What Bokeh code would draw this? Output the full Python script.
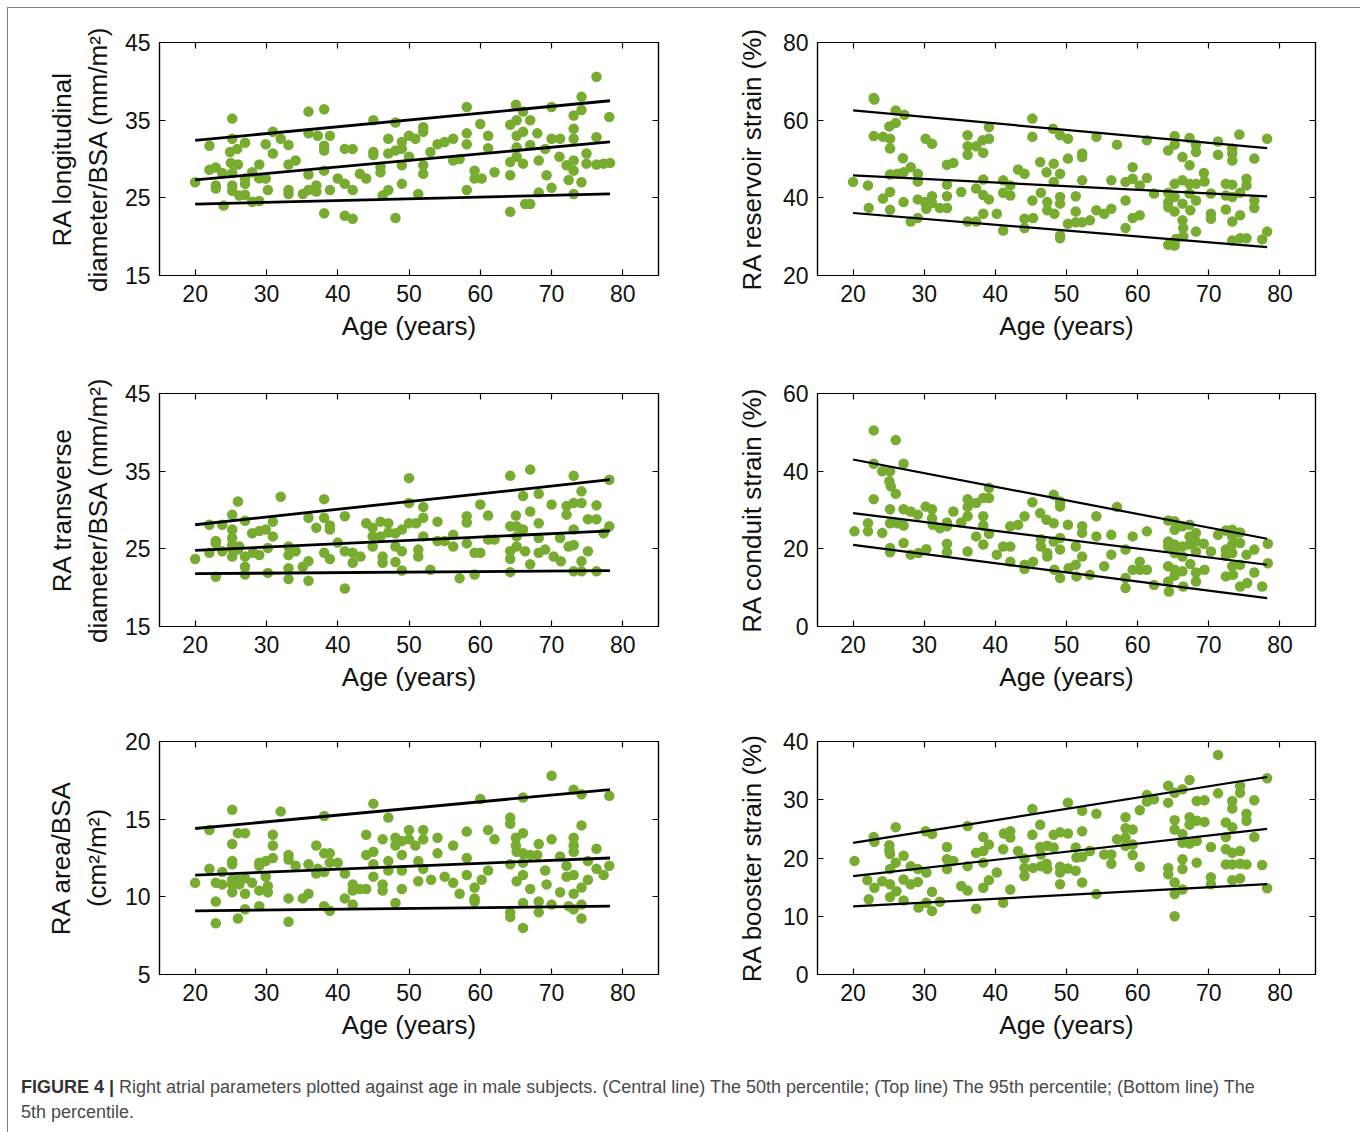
from bokeh.plotting import figure
from bokeh.models import FixedTicker, LinearAxis, Range1d, CustomJSTickFormatter, Div
from bokeh.layouts import column, row
from bokeh.embed import file_html
from bokeh.resources import INLINE

# ---------------- data ----------------
x_ticks = [20, 30, 40, 50, 60, 70, 80]
line_ages = [20, 78.2]

long_points = [(20,27.0),(22,31.7),(22,28.6),(22.9,28.9),(22.9,26.6),(22.9,26.2),(23.8,28.2),(24,24.0),
    (25.2,35.2),(25.2,32.6),(24.9,30.9),(25,29.5),(25.2,28.2),(25.2,26.6),(25.2,25.9),(26,29.3),(25.9,31.3),
    (26.2,25.3),(27,32.1),(27,27.5),(27,26.8),(27,25.4),(28,24.5),(28,28.3),(29,29.3),(29,27.5),(29,24.6),
    (29.9,31.9),(29.9,27.5),(30.2,26.0),(30.9,33.5),(30.9,30.7),(32,32.6),(33.1,31.8),(33.1,29.3),(33.1,26.0),
    (33.1,25.5),(34.1,29.8),(35.1,25.5),(35.9,36.1),(35.9,33.3),(35.9,28.0),(35.9,26.0),(37,26.6),(37,25.8),
    (37.2,33.0),(38.1,36.4),(38.1,31.7),(38.1,31.1),(38.1,28.5),(38.1,23.0),(38.9,33.0),(38.9,26.0),(40,27.5),
    (41,31.3),(41,26.8),(41,22.7),(42.1,31.3),(42.1,26.0),(42.1,22.3),(43.1,28.1),(44,27.5),(45,35.0),(45,30.9),
    (45,30.5),(46,29.0),(46,28.3),(46.3,25.3),(47.1,32.6),(47.1,30.7),(47.1,26.0),(48.1,34.7),(48.1,31.1),
    (48.1,22.4),(49,32.2),(49,31.3),(49,29.2),(49,26.8),(50,33.0),(50,30.3),(50.9,32.6),(51.3,25.5),(52,34.1),
    (52,33.5),(52,29.2),(52,28.1),(53,30.9),(54,31.9),(55,32.2),(56.2,32.6),(56.2,29.8),(57.1,30.0),(58.1,36.7),
    (58.1,33.3),(58.1,31.9),(58.1,26.0),(59.2,28.5),(59.2,27.5),(60,34.5),(60.2,27.5),(61.1,33.0),(61.1,31.4),
    (62,28.3),(64.2,34.4),(64.2,29.6),(64.2,27.9),(64.2,23.2),(65,37.0),(65.1,35.0),(65.1,33.0),(65.1,31.5),
    (65.1,30.3),(66,36.1),(66,33.5),(66,29.4),(66.3,24.2),(67,35.0),(67,31.8),(67,24.2),(68,33.3),(68.2,29.8),
    (68.2,25.7),(69.1,31.3),(69.3,27.9),(70,36.7),(70,32.6),(70,26.3),(71.1,30.3),(71.2,32.6),(72.1,29.2),
    (72.4,27.3),(73.1,35.6),(73.1,33.9),(73.1,32.6),(73.1,29.8),(73.1,28.5),(73.1,25.5),(74.2,38.0),(74.2,36.3),
    (74.2,27.0),(74.9,30.7),(74.9,29.4),(76.3,40.6),(76.3,32.8),(76.3,29.3),(77.3,29.4),(78.1,35.4),(78.2,29.5)]
long_p95 = [32.4, 37.5]
long_p50 = [27.3, 32.2]
long_p5 = [24.2, 25.5]

res_points = [(22.9,65.7),(23,65.3),(22.9,55.9),(24.2,55.7),(25.2,55.2),(25.2,52.7),(25.1,58.4),(26,59.3),
    (26,62.5),(27.2,61.4),(27,50.2),(20,44.1),(22.1,43.2),(22.2,37.4),(24.2,39.8),(25.2,41.5),(25.2,46.0),
    (25.2,36.9),(26.2,46.2),(27.1,38.9),(27.1,46.6),(28.1,47.9),(28.1,33.9),(29.1,46.2),(29.1,44.2),(29.1,39.6),
    (29.1,34.8),(30.2,55.2),(31.1,53.9),(30.1,38.9),(30.3,37.2),(31.1,40.4),(31.1,38.7),(32.2,37.4),(33.2,48.5),
    (34.1,49.0),(33.2,40.4),(33.2,37.4),(33.2,43.4),(35.2,41.5),(36.1,56.1),(36.1,53.3),(36.1,51.1),(36.1,33.9),
    (37.3,53.3),(37.3,42.4),(37.3,33.9),(38.2,54.8),(38.3,51.6),(38.3,44.7),(38.3,40.7),(38.3,35.9),(39.1,58.2),
    (39.1,55.2),(39.1,39.6),(40.2,35.9),(41.1,44.5),(41.1,41.3),(41.1,31.6),(42.1,43.2),(42.1,40.6),(43.2,47.3),
    (44.1,46.2),(44.1,34.6),(44.1,32.2),(45.2,60.4),(45.2,55.7),(45.2,39.3),(45.3,34.8),(46.3,49.2),(46.4,41.3),
    (47.2,46.6),(47.3,38.9),(47.3,36.8),(48.1,57.8),(48.2,48.8),(48.2,44.1),(48.3,35.9),(49.1,56.1),(49.1,46.2),
    (49.1,40.2),(49.1,38.5),(49.1,30.3),(49.1,29.6),(50.2,55.2),(50.2,50.1),(50.2,33.3),(51.3,40.4),(51.3,36.5),
    (51.3,33.7),(52.2,51.4),(52.2,50.5),(52.2,44.5),(52.2,33.7),(53.3,34.2),(54.2,55.7),(54.2,36.8),(55.3,35.9),
    (56.3,44.5),(56.3,37.2),(57.1,53.7),(58.3,44.1),(58.3,39.3),(58.3,32.2),(59.3,47.9),(59.3,44.9),(59.3,34.8),
    (60.3,43.2),(60.3,35.5),(61.3,54.8),(61.3,45.1),(62.3,41.1),(64.3,52.2),(64.3,41.3),(64.3,38.9),(64.3,37.6),
    (64.3,27.9),(65.2,55.9),(65.2,53.7),(65.2,43.6),(65.2,40.2),(65.2,36.5),(65.2,27.7),(65.4,29.4),(66.3,50.5),
    (66.3,44.5),(66.3,38.5),(66.3,34.2),(66.4,32.2),(66.4,30.1),(67.3,55.4),(67.3,48.4),(67.3,43.6),(67.3,41.1),
    (67.4,36.8),(68.2,53.7),(68.2,51.8),(68.2,43.6),(68.2,39.3),(68.2,31.3),(69.3,46.4),(69.4,44.2),(70.3,41.1),
    (70.3,35.9),(70.3,34.6),(71.3,54.5),(71.3,51.1),(72.4,43.6),(72.4,40.6),(72.4,37.0),(73.3,52.7),(73.3,51.4),
    (73.3,49.6),(73.3,43.4),(73.3,40.2),(73.3,33.9),(73.3,29.0),(74.3,56.3),(74.4,41.3),(74.4,35.5),(74.4,29.6),
    (75.3,44.9),(75.3,43.2),(75.3,29.6),(76.4,50.1),(76.4,39.3),(76.4,37.4),(77.5,29.3),(78.2,55.2),(78.2,31.3)]
res_p95 = [62.5, 52.8]
res_p50 = [45.8, 40.4]
res_p5 = [36.1, 27.3]

trans_points = [(20,23.7),(22,28.1),(22,24.5),(22.9,26.0),(22.9,25.7),(22.9,21.4),(23.8,28.1),(23.8,24.7),
    (25.2,29.4),(25.2,27.5),(25.2,26.4),(25.2,25.5),(25.2,25.0),(25.2,24.0),(26,31.1),(26,24.9),(26.2,25.3),
    (27,28.6),(27,24.0),(27,22.7),(27,21.7),(28,27.0),(28.1,24.5),(29,27.3),(29,24.2),(29.9,27.5),(30.2,25.1),
    (30.2,21.9),(30.9,28.5),(30.9,26.6),(32,31.7),(33.1,25.3),(33.1,24.2),(33.1,22.5),(33.1,21.1),(34.1,24.7),
    (35.1,22.7),(35.9,29.0),(35.9,23.4),(35.9,20.9),(37,27.7),(38.1,31.4),(38.1,29.0),(38.1,24.5),(38.9,28.0),
    (38.9,27.5),(38.9,23.7),(40,25.8),(41,29.2),(41,19.9),(41,24.7),(42.1,24.5),(42.1,23.2),(43.2,24.0),(44,28.3),
    (44.9,27.7),(44.9,26.6),(44.9,25.3),(46,28.5),(46,26.6),(46.3,24.0),(46.3,23.2),(47.1,28.3),(47.1,27.1),
    (48.1,27.0),(48.1,25.3),(48.1,23.3),(49,27.5),(49,24.7),(49,22.2),(50,34.1),(50,30.9),(50,28.3),(51,28.3),
    (51.3,24.9),(51.3,24.0),(52,30.4),(52,29.0),(52,26.6),(53,22.3),(54,28.5),(54,26.0),(55,26.0),(56.2,26.8),
    (56.2,25.3),(57.1,21.2),(58.1,29.2),(58.1,28.4),(58.1,25.7),(59.2,24.5),(59.2,21.7),(60,30.7),(60,24.5),
    (61.1,29.3),(61.1,26.2),(62,26.2),(64.2,34.4),(64.2,27.9),(64.2,24.7),(64.2,23.7),(64.2,22.0),(65,29.3),
    (65.1,27.9),(65.1,26.6),(65.1,25.3),(66,31.8),(66,27.5),(66.3,24.7),(67,35.2),(67,29.8),(67,23.0),(68.2,32.1),
    (68.2,28.3),(68.2,26.4),(68.2,24.5),(69.1,24.9),(70,30.7),(70.3,24.0),(71.2,26.4),(71.3,23.4),(72.1,30.5),
    (72.1,29.4),(72.4,25.3),(73.1,34.4),(73.1,30.9),(73.1,27.5),(73.1,25.5),(73.1,22.1),(74.2,32.4),(74.2,30.9),
    (74.2,23.4),(74.2,22.1),(75.1,28.8),(75.1,24.7),(76.3,30.6),(76.3,28.8),(76.3,22.1),(77.3,27.0),(78.1,33.9),
    (78.1,27.9)]
trans_p95 = [28.1, 33.9]
trans_p50 = [24.8, 27.3]
trans_p5 = [21.8, 22.2]

cond_points = [(22.9,50.5),(26,48.0),(22.9,41.9),(24.1,40.0),(25.2,40.0),(25.1,37.4),(25.3,36.1),(26,34.2),
    (27.1,41.9),(22.9,32.8),(20.2,24.5),(22.1,26.6),(22.1,24.5),(24.1,24.1),(25.2,30.2),(25.2,26.6),(25.2,20.2),
    (25.2,19.1),(26.2,26.6),(27.1,30.2),(27.1,26.0),(27.1,21.5),(28.1,29.6),(28.1,18.5),(29.1,28.8),(29.2,18.9),
    (30.2,30.9),(30.3,19.9),(31.1,30.2),(31.1,27.9),(31.2,26.2),(32.2,25.3),(33.2,26.8),(33.2,25.8),(33.2,21.3),
    (33.2,19.1),(34.1,29.6),(35.2,26.8),(36.1,32.8),(36.1,30.8),(36.1,28.4),(36.1,19.3),(37.3,31.8),(37.3,23.2),
    (38.3,33.1),(38.3,28.4),(38.3,26.0),(38.3,21.1),(39.1,35.7),(39.1,33.1),(39.1,23.9),(40.2,18.5),(41.1,20.6),
    (42.1,25.8),(42.1,20.6),(42.1,16.7),(43.2,26.2),(44.1,28.4),(44.1,15.9),(44.1,14.8),(45.2,32.0),(45.3,16.7),
    (46.3,29.2),(46.4,22.5),(46.4,20.6),(47.2,27.5),(47.3,18.9),(47.3,18.0),(48.2,33.9),(48.2,26.6),(48.2,21.9),
    (48.3,14.6),(49.1,32.2),(49.1,30.9),(49.1,22.8),(49.1,19.8),(49.1,12.5),(50.2,26.2),(50.3,15.0),(51.3,20.6),
    (51.3,15.9),(51.4,12.9),(52.2,25.8),(52.2,24.1),(52.2,18.0),(53.3,13.3),(54.2,28.4),(54.2,23.2),(55.3,15.5),
    (56.3,23.6),(56.3,18.5),(57.1,30.8),(58.3,19.8),(58.3,12.5),(58.3,9.9),(59.3,23.2),(59.3,14.6),(60.3,16.7),
    (60.3,14.6),(61.3,24.5),(61.3,14.6),(62.3,10.7),(64.3,27.3),(64.3,21.9),(64.3,20.6),(64.3,15.5),(64.3,11.6),
    (64.4,9.0),(65.2,27.1),(65.2,24.9),(65.2,21.1),(65.2,18.9),(65.2,14.6),(65.2,13.1),(66.3,25.8),(66.3,20.6),
    (66.3,18.0),(66.3,14.2),(66.4,10.3),(67.3,26.2),(67.3,23.2),(67.3,21.1),(67.4,16.1),(68.2,24.1),(68.2,21.9),
    (68.2,19.3),(68.2,13.9),(68.2,11.6),(69.3,21.3),(69.4,14.6),(70.3,19.3),(71.3,23.6),(72.4,24.7),(72.4,19.8),
    (72.4,18.2),(72.4,12.9),(73.3,24.9),(73.3,23.2),(73.3,21.1),(73.3,18.9),(73.3,15.5),(73.4,13.3),(74.4,24.2),
    (74.4,21.5),(74.4,15.9),(74.4,10.3),(75.3,18.5),(75.4,11.2),(76.4,19.8),(76.4,13.9),(77.5,10.3),(78.3,21.3),
    (78.3,16.3)]
cond_p95 = [43.0, 22.6]
cond_p50 = [29.2, 15.9]
cond_p5 = [21.0, 7.3]

area_points = [(20,10.9),(22,14.3),(22,11.8),(22.9,10.9),(22.9,9.7),(22.9,8.3),(23.8,11.6),(23.8,10.8),
    (25.2,15.6),(25.2,13.4),(25.2,12.3),(25.2,12.1),(25.2,11.1),(25.2,10.8),(25.2,10.3),(26,14.1),(26,11.1),
    (26,8.6),(26.2,10.8),(27,14.1),(27,11.2),(27,10.2),(27,9.2),(28,10.9),(29,12.2),(29,12.0),(29,10.4),(29,9.4),
    (29.9,12.3),(29.9,11.3),(30.2,10.7),(30.2,10.3),(30.9,14.0),(30.9,13.3),(30.9,12.5),(32,15.5),(33.1,12.7),
    (33.1,12.4),(33.1,9.9),(33.1,8.4),(34.1,12.0),(35.1,9.9),(35.9,12.1),(35.9,10.2),(37,13.3),(37,11.5),
    (37.2,11.8),(38.1,15.2),(38.1,12.8),(38.1,11.6),(38.1,9.4),(38.9,12.8),(38.9,12.2),(38.9,9.1),(40,12.2),
    (41,11.5),(41,9.9),(42.1,10.8),(42.1,10.4),(42.1,9.5),(43.1,10.5),(44,10.5),(44,14.0),(44,12.7),(45,16.0),
    (45,12.9),(45,12.1),(45,11.3),(46.3,13.7),(46.3,10.8),(46.3,10.4),(47.1,15.1),(47.1,12.3),(47.1,11.7),
    (48.1,13.8),(48.1,13.3),(48.1,9.6),(49,12.7),(49,11.7),(49,10.5),(49,13.6),(50,14.3),(50,13.7),(50.9,13.3),
    (51.3,12.3),(51.3,11.0),(52,14.3),(52,13.7),(52,11.8),(53.1,11.1),(54,13.8),(54,12.8),(55,11.3),(56.2,13.3),
    (56.2,10.9),(57.1,10.2),(58.1,14.2),(58.1,12.5),(58.1,11.4),(59.2,10.6),(59.2,9.9),(59.2,9.7),(60,16.3),
    (60.2,11.1),(61.1,14.3),(61.1,11.7),(62,13.7),(64.2,15.1),(64.2,14.7),(64.2,12.1),(64.2,9.0),(64.2,8.7),
    (65,13.8),(65,13.3),(65.1,12.9),(65.1,11.0),(66,16.4),(66,14.1),(66,12.8),(66,12.2),(66,11.4),(66,9.6),
    (66,8.0),(67,12.7),(67,10.5),(68,12.7),(68.2,13.4),(68.2,9.7),(68.2,9.0),(69.1,11.7),(69.3,10.8),(70,17.8),
    (70,13.7),(70,9.5),(71.2,12.6),(71.2,10.3),(72.1,12.0),(72.1,11.3),(72.4,9.4),(73.1,16.9),(73.1,13.8),
    (73.1,13.3),(73.1,12.9),(73.1,11.4),(73.1,10.2),(73.1,9.2),(74.2,16.6),(74.2,14.6),(74.2,10.6),(74.2,9.5),
    (74.2,8.6),(75.1,12.3),(75.1,11.1),(76.3,13.1),(76.3,11.8),(77.3,11.4),(78.1,16.5),(78.1,12.0)]
area_p95 = [14.4, 16.9]
area_p50 = [11.4, 12.5]
area_p5 = [9.1, 9.4]

boost_points = [(20.2,19.5),(22,16.2),(22.2,12.9),(22.9,23.6),(23,22.8),(23,14.9),(24.1,16.0),(25.1,22.2),
    (25.1,21.3),(25.2,20.7),(25.2,18.1),(25.2,15.5),(25.2,13.3),(26,25.3),(26,19.2),(26.1,14.3),(27.1,20.4),
    (27.1,16.3),(27.1,12.7),(28.1,18.6),(28.1,15.5),(29.1,18.1),(29.1,15.9),(29.2,11.5),(30.2,24.6),(30.3,17.5),
    (30.3,12.3),(31.1,24.1),(31.1,14.2),(31.1,10.9),(32.2,12.5),(33.2,21.9),(33.2,19.8),(33.2,18.1),(34.1,19.5),
    (35.2,15.2),(36.1,25.5),(36.1,18.6),(36.1,14.4),(37.3,20.9),(37.3,11.3),(38.3,23.6),(38.3,21.2),(38.3,19.2),
    (38.3,14.9),(39.1,22.3),(39.1,16.2),(40.2,17.5),(41.1,21.5),(41.1,12.3),(41.2,24.2),(42.1,24.6),(42.1,23.5),
    (42.1,14.6),(43.2,21.2),(44.1,19.9),(44.1,18.3),(44.1,16.9),(45.2,28.4),(45.2,24.0),(45.3,18.3),(46.3,25.7),
    (46.3,21.9),(46.4,20.6),(46.4,18.6),(47.2,19.0),(47.3,22.1),(47.3,18.1),(48.2,24.0),(48.2,21.8),(49.1,24.4),
    (49.1,18.5),(49.1,17.5),(49.1,15.5),(50.2,29.5),(50.2,24.2),(50.2,18.2),(51.3,21.8),(51.3,17.8),(51.4,20.1),
    (52.2,28.1),(52.2,24.6),(52.2,20.2),(52.2,15.8),(53.3,21.2),(54.2,27.6),(54.2,13.8),(55.3,20.6),(56.3,20.6),
    (56.3,19.0),(57.1,23.2),(58.3,27.0),(58.3,25.1),(58.3,23.5),(58.3,22.1),(59.3,24.9),(59.3,22.3),(59.3,20.5),
    (60.3,28.2),(60.3,18.5),(61.3,30.8),(61.3,29.7),(62.3,30.1),(64.3,32.4),(64.3,29.5),(64.3,18.3),(64.3,17.2),
    (65.2,31.2),(65.2,26.5),(65.2,24.9),(65.2,15.8),(65.2,13.8),(65.2,10.0),(66.3,31.8),(66.3,24.1),(66.3,22.6),
    (66.3,19.8),(66.3,18.1),(66.3,14.6),(67.3,33.4),(67.3,27.0),(67.3,25.7),(67.3,22.5),(68.3,29.8),(68.3,26.4),
    (68.3,22.9),(68.3,19.2),(69.4,29.9),(69.4,26.2),(70.3,21.9),(70.3,16.7),(70.3,15.5),(71.3,37.7),(71.3,31.1),
    (72.4,26.1),(72.4,23.6),(72.4,21.5),(72.4,18.9),(73.3,29.8),(73.3,28.5),(73.3,25.3),(73.3,20.9),(73.3,18.9),
    (73.3,16.2),(74.4,32.4),(74.4,31.2),(74.4,21.2),(74.4,19.0),(74.4,16.5),(75.3,27.6),(75.3,26.4),(75.3,18.9),
    (76.4,29.9),(76.4,23.6),(77.5,18.8),(78.2,33.7),(78.2,14.8)]
boost_p95 = [22.6, 33.9]
boost_p50 = [16.9, 25.0]
boost_p5 = [11.7, 15.5]

# ---------------- styling ----------------
GREEN = "#77AC30"
FONT = "Liberation Sans"
TICK_FS = "23px"
LABEL_FS = "26px"
blank = CustomJSTickFormatter(code="return ''")


def style_axis(ax, ticks, show_labels=True):
    ax.ticker = FixedTicker(ticks=ticks)
    ax.axis_line_color = "black"
    ax.axis_line_width = 1.2
    ax.major_tick_line_color = "black"
    ax.major_tick_line_width = 1.2
    ax.major_tick_in = 6
    ax.major_tick_out = 0
    ax.minor_tick_line_color = None
    ax.major_label_text_font = FONT
    ax.major_label_text_font_size = TICK_FS
    ax.major_label_text_color = "#111111"
    ax.major_label_standoff = 9
    ax.axis_label_text_font = FONT
    ax.axis_label_text_font_size = LABEL_FS
    ax.axis_label_text_font_style = "normal"
    ax.axis_label_text_color = "#111111"
    if not show_labels:
        ax.formatter = blank


def panel(points, p5, p50, p95, yr, yticks, ylabel, width, height, ml, mr, mt, mb, lw, ystand):
    p = figure(width=width, height=height, x_range=Range1d(15, 85), y_range=Range1d(*yr),
               output_backend="svg", toolbar_location=None,
               min_border_left=ml, min_border_right=mr, min_border_top=mt, min_border_bottom=mb)
    p.grid.visible = False
    p.outline_line_color = "black"
    p.outline_line_width = 1.2
    p.background_fill_color = "white"
    p.border_fill_color = "white"
    style_axis(p.xaxis[0], x_ticks)
    style_axis(p.yaxis[0], yticks)
    p.xaxis[0].axis_label = "Age (years)"
    p.xaxis[0].axis_label_standoff = 6
    p.yaxis[0].axis_label = ylabel
    p.yaxis[0].axis_label_standoff = ystand
    top = LinearAxis()
    style_axis(top, x_ticks, show_labels=False)
    p.add_layout(top, "above")
    right = LinearAxis()
    style_axis(right, yticks, show_labels=False)
    p.add_layout(right, "right")
    ages = [a for a, _ in points]
    vals = [v for _, v in points]
    p.scatter(ages, vals, size=10.5, marker="circle", fill_color=GREEN, line_color=None)
    for arr in (p95, p50, p5):
        p.line(line_ages, arr, line_color="black", line_width=lw)
    return p


W1, W2 = 692, 650
LM1, RM1 = 151, 42
LM2, RM2 = 117, 35

p1 = panel(long_points, long_p5, long_p50, long_p95, (15, 45), [15, 25, 35, 45],
           "RA longitudinal\ndiameter/BSA (mm/m²)", W1, 352, LM1, RM1, 34, 85, 2.8, 9)
p2 = panel(res_points, res_p5, res_p50, res_p95, (20, 80), [20, 40, 60, 80],
           "RA reservoir strain (%)", W2, 352, LM2, RM2, 34, 85, 2.2, 13)
p3 = panel(trans_points, trans_p5, trans_p50, trans_p95, (15, 45), [15, 25, 35, 45],
           "RA transverse\ndiameter/BSA (mm/m²)", W1, 348, LM1, RM1, 33, 82, 2.8, 9)
p4 = panel(cond_points, cond_p5, cond_p50, cond_p95, (0, 60), [0, 20, 40, 60],
           "RA conduit strain (%)", W2, 348, LM2, RM2, 33, 82, 2.2, 13)
p5 = panel(area_points, area_p5, area_p50, area_p95, (5, 20), [5, 10, 15, 20],
           "RA area/BSA\n(cm²/m²)", W1, 350, LM1, RM1, 33, 84, 2.8, 10)
p6 = panel(boost_points, boost_p5, boost_p50, boost_p95, (0, 40), [0, 10, 20, 30, 40],
           "RA booster strain (%)", W2, 350, LM2, RM2, 33, 84, 2.2, 13)

caption = Div(
    text=('<div style="padding:12px 0 0 8px; font-family:\'Liberation Sans\', Arial, sans-serif; '
          'font-size:18px; line-height:25px; color:#4a4a4a; white-space:nowrap;">'
          '<b style="color:#333333;">FIGURE 4 |</b> Right atrial parameters plotted against age in male '
          'subjects. (Central line) The 50th percentile; (Top line) The 95th percentile; (Bottom line) The'
          '<br>5th percentile.</div>'),
    width=W1 + W2, height=64)

layout = column(row(p1, p2), row(p3, p4), row(p5, p6), caption,
                margin=(7, 0, 0, 7),
                styles={"border-top": "1px solid #808080", "border-left": "1px solid #808080",
                        "border-right": "2px solid #808080"})

open("out.html", "w").write(file_html(layout, INLINE))
